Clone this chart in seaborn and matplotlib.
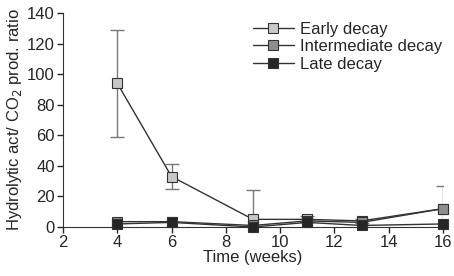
import matplotlib
matplotlib.use('Agg')
import matplotlib.pyplot as plt
import seaborn as sns
import pandas as pd
import numpy as np

weeks = [4, 6, 9, 11, 13, 16]
early = [94, 33, 5, 5, 4, 12]
early_err = [35, 8, 19, 2, 1.5, 15]
intermediate = [3.5, 3.5, 1, 4, 3, 12]
late = [2, 3, 0, 3, 1, 2]

series = ['Early decay', 'Intermediate decay', 'Late decay']
fills = ['#c8c8c8', '#8e8e8e', '#262626']

df = pd.DataFrame({
    'week': weeks * 3,
    'ratio': early + intermediate + late,
    'stage': [s for s in series for _ in weeks],
})

sns.set_style('ticks')
plt.rcParams['font.family'] = ['Liberation Sans', 'DejaVu Sans']
plt.rcParams['font.size'] = 12

fig = plt.figure(figsize=(4.54, 2.76), dpi=100)
ax = fig.add_axes([63 / 454, 1 - 227 / 276, 380 / 454, 214 / 276])

# error bars (early decay only)
ax.errorbar(weeks, early, yerr=early_err, fmt='none', ecolor='#7a7a7a',
            elinewidth=1, capsize=5, capthick=1, zorder=1, clip_on=True)

for s, c in zip(series, fills):
    sns.lineplot(data=df[df['stage'] == s], x='week', y='ratio', ax=ax,
                 color='#333333', linewidth=1, marker='s', markersize=7,
                 markerfacecolor=c, markeredgecolor='#333333',
                 markeredgewidth=0.8, label=s, clip_on=False, zorder=3)

ax.set_xlim(2, 16)
ax.set_ylim(0, 140)
ax.set_xticks(range(2, 17, 2))
ax.set_yticks(range(0, 141, 20))
ax.set_xlabel('Time (weeks)', labelpad=0)
ax.set_ylabel('Hydrolytic act/ CO$_2$ prod. ratio', labelpad=2)
ax.tick_params(direction='out', length=4, width=1, pad=2, labelsize=12)
sns.despine(ax=ax)
for sp in ['left', 'bottom']:
    ax.spines[sp].set_color('#333333')

ax.legend(loc='upper left', bbox_to_anchor=(0.49, 0.975), frameon=False,
          handlelength=2.5, handletextpad=0.35, labelspacing=0.15,
          borderaxespad=0.0, borderpad=0.2)

fig.savefig('out.png', dpi=100)
